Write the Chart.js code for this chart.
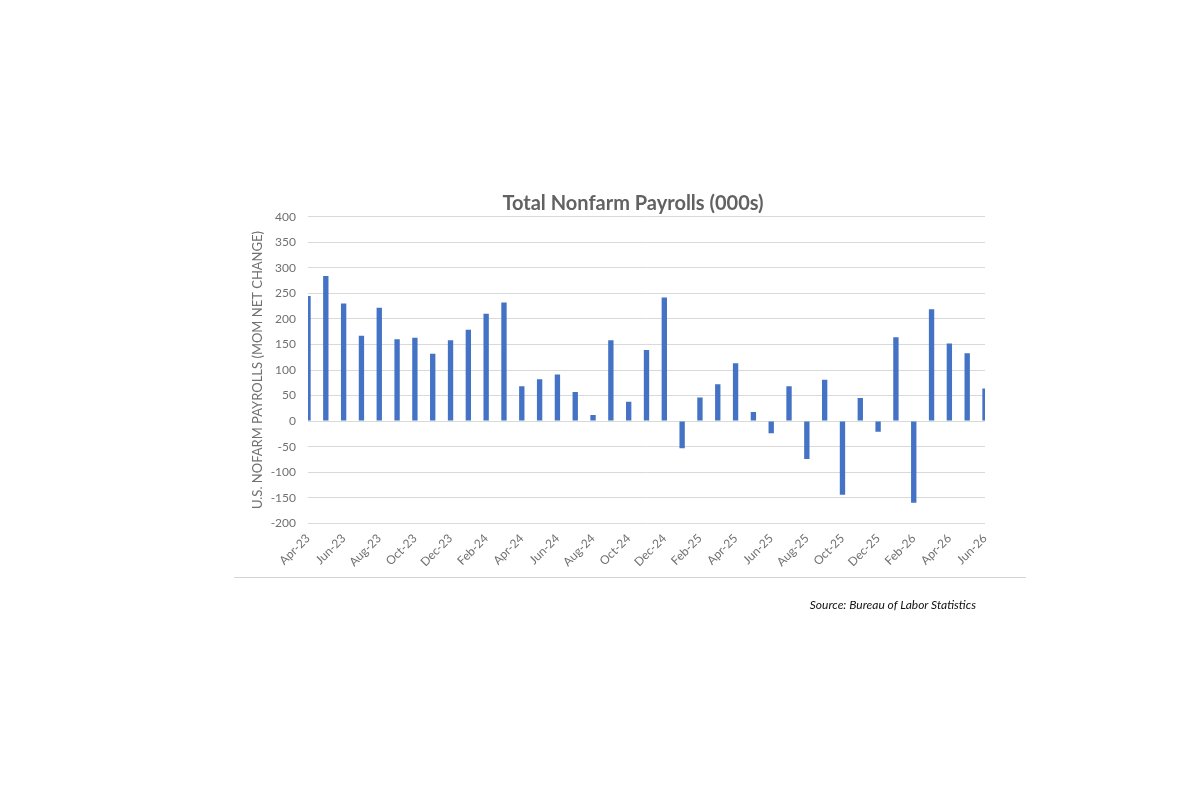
<!DOCTYPE html>
<html>
<head>
<meta charset="utf-8">
<title>Total Nonfarm Payrolls (000s)</title>
<script src="https://cdn.jsdelivr.net/npm/chart.js@4.4.1/dist/chart.umd.min.js"></script>
<style>
  html, body { margin: 0; padding: 0; background: #fff; }
  #wrap { position: relative; width: 1200px; height: 800px; font-family: Lato, "Open Sans", sans-serif; }
  #payrolls { position: absolute; left: 0; top: 0; }
  #title {
    position: absolute; left: 433px; width: 400px; top: 190px;
    text-align: center; font-size: 20px; line-height: 24px; font-weight: bold; color: #626262;
  }
  #rule { position: absolute; left: 234px; width: 792px; top: 577px; height: 1px; background: #d4d4d4; }
  #source {
    position: absolute; right: 224px; top: 597px;
    font-size: 12px; line-height: 15px; font-style: italic; color: #111;
  }
</style>
</head>
<body>
<div id="wrap">
  <canvas id="payrolls" width="1200" height="800"></canvas>
  <div id="title">Total Nonfarm Payrolls (000s)</div>
  <div id="rule"></div>
  <div id="source">Source: Bureau of Labor Statistics</div>
</div>
<script>
/* Monthly net change in nonfarm payrolls, thousands, Apr-23 .. Jun-26 */
const months = [
  'Apr-23', 'May-23', 'Jun-23', 'Jul-23', 'Aug-23', 'Sep-23', 'Oct-23', 'Nov-23', 'Dec-23',
  'Jan-24', 'Feb-24', 'Mar-24', 'Apr-24', 'May-24', 'Jun-24', 'Jul-24', 'Aug-24', 'Sep-24',
  'Oct-24', 'Nov-24', 'Dec-24',
  'Jan-25', 'Feb-25', 'Mar-25', 'Apr-25', 'May-25', 'Jun-25', 'Jul-25', 'Aug-25', 'Sep-25',
  'Oct-25', 'Nov-25', 'Dec-25',
  'Jan-26', 'Feb-26', 'Mar-26', 'Apr-26', 'May-26', 'Jun-26'
];

const netChange = [
  245, 284, 230, 167, 222, 160, 163, 132, 158,
  179, 210, 232, 68, 82, 91, 57, 12, 158,
  38, 139, 242,
  -53, 46, 72, 113, 18, -24, 68, -74, 81,
  -144, 45, -21,
  164, -160, 219, 152, 133, 64
];

const yTicks = { min: -200, max: 400, step: 50 };

const axisGrey = '#707070';
const tickFont = { family: 'Lato, "Open Sans", sans-serif', size: 12 };

new Chart(document.getElementById('payrolls'), {
  type: 'bar',
  data: {
    labels: months,
    datasets: [{
      label: 'Net change',
      data: netChange,
      backgroundColor: '#4472C4',
      borderWidth: 0,
      categoryPercentage: 1,
      barPercentage: 0.3,
      clip: 0
    }]
  },
  options: {
    responsive: false,
    animation: false,
    layout: { padding: { left: 250, right: 215, top: 216.7, bottom: 216.7 } },
    plugins: {
      legend: { display: false },
      tooltip: { enabled: false }
    },
    scales: {
      x: {
        offset: false,
        grid: { display: false, drawTicks: false, offset: false },
        border: { display: false },
        ticks: {
          autoSkip: false,
          minRotation: 45,
          maxRotation: 45,
          padding: 8,
          color: axisGrey,
          font: tickFont,
          callback: (v, i) => (i % 2 === 0 ? months[i] : '')
        },
        afterFit: (s) => { s.height = 60; }
      },
      y: {
        min: yTicks.min,
        max: yTicks.max,
        grid: { color: '#d9d9d9', lineWidth: 1, drawTicks: false },
        border: { display: false },
        ticks: { stepSize: yTicks.step, padding: 12, color: axisGrey, font: tickFont },
        title: {
          display: true,
          text: 'U.S. NOFARM PAYROLLS (MOM NET CHANGE)',
          color: axisGrey,
          font: { family: tickFont.family, size: 13 },
          padding: { top: 0, bottom: 0 }
        },
        afterFit: (s) => { s.width = 58; }
      }
    }
  }
});
</script>
</body>
</html>
